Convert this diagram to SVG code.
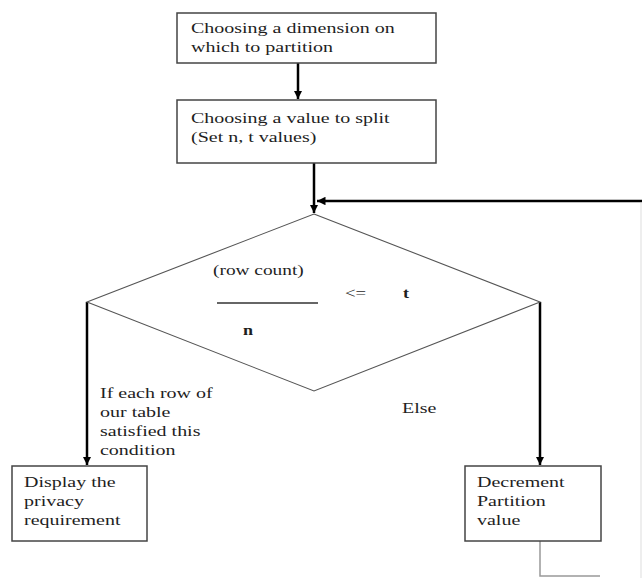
<svg xmlns="http://www.w3.org/2000/svg" width="642" height="578" viewBox="0 0 642 578">
  <defs>
    <marker id="ah" viewBox="0 0 10 10" refX="10" refY="5" markerWidth="3.4" markerHeight="3.4" orient="auto" markerUnits="strokeWidth">
      <path d="M0,0 L10,5 L0,10 z" fill="#000"/>
    </marker>
    <style>
      .box { fill: #fff; stroke: #444; stroke-width: 1.5; }
      .dia { fill: none; stroke: #555; stroke-width: 1.1; }
      .t { font-family: "Liberation Serif", "Times New Roman", serif; font-size: 15.5px; fill: #1e1e1e; }
      .conn { fill: none; stroke: #000; stroke-width: 2.5; }
      .faint { fill: none; stroke: #999; stroke-width: 1.5; }
    </style>
  </defs>
  <rect width="642" height="578" fill="#fff"/>

  <g id="connectors">
    <line class="conn" x1="298" y1="63" x2="298" y2="99" marker-end="url(#ah)"/>
    <line class="conn" x1="314" y1="163" x2="314" y2="213" marker-end="url(#ah)"/>
    <line class="conn" x1="642" y1="201" x2="317" y2="201" stroke-width="2" marker-end="url(#ah)"/>
    <line class="conn" x1="87" y1="302" x2="87" y2="465" marker-end="url(#ah)"/>
    <line class="conn" x1="540" y1="302" x2="540" y2="465" marker-end="url(#ah)"/>
    <polyline class="faint" points="540,541 540,576 600,576"/>
    <line x1="641" y1="203" x2="641" y2="578" stroke="#ddd" stroke-width="1"/>
  </g>

  <g id="n1">
    <rect class="box" x="177" y="13" width="259" height="50"/>
    <text class="t" transform="translate(191,33) scale(1.29,1)"><tspan x="0">Choosing a dimension on</tspan><tspan x="0" dy="19">which to partition</tspan></text>
  </g>

  <g id="n2">
    <rect class="box" x="177" y="100" width="259" height="63"/>
    <text class="t" transform="translate(191,123) scale(1.29,1)"><tspan x="0">Choosing a value to split</tspan><tspan x="0" dy="19">(Set n, t values)</tspan></text>
  </g>

  <g id="decision">
    <polygon class="dia" points="314,214 540,302 314,391 87,302"/>
    <text class="t" style="font-size:15px" transform="translate(213,275) scale(1.29,1)">(row count)</text>
    <line x1="217" y1="303" x2="318" y2="303" stroke="#333" stroke-width="1.5"/>
    <text class="t" style="font-size:14.5px" transform="translate(345,298) scale(1.29,1)">&lt;=</text>
    <text class="t" style="font-size:14px;font-weight:bold" transform="translate(403,298) scale(1.29,1)">t</text>
    <text class="t" style="font-size:14px;font-weight:bold" transform="translate(243,335) scale(1.29,1)">n</text>
  </g>

  <g id="label-yes">
    <text class="t" transform="translate(100,398) scale(1.29,1)"><tspan x="0">If each row of</tspan><tspan x="0" dy="19">our table</tspan><tspan x="0" dy="19">satisfied this</tspan><tspan x="0" dy="19">condition</tspan></text>
  </g>

  <g id="label-else">
    <text class="t" transform="translate(402,413) scale(1.29,1)">Else</text>
  </g>

  <g id="n3">
    <rect class="box" x="12" y="466" width="135" height="75"/>
    <text class="t" transform="translate(24,487) scale(1.29,1)"><tspan x="0">Display the</tspan><tspan x="0" dy="19">privacy</tspan><tspan x="0" dy="19">requirement</tspan></text>
  </g>

  <g id="n4">
    <rect class="box" x="465" y="466" width="136" height="75"/>
    <text class="t" transform="translate(477,487) scale(1.29,1)"><tspan x="0">Decrement</tspan><tspan x="0" dy="19">Partition</tspan><tspan x="0" dy="19">value</tspan></text>
  </g>
</svg>
